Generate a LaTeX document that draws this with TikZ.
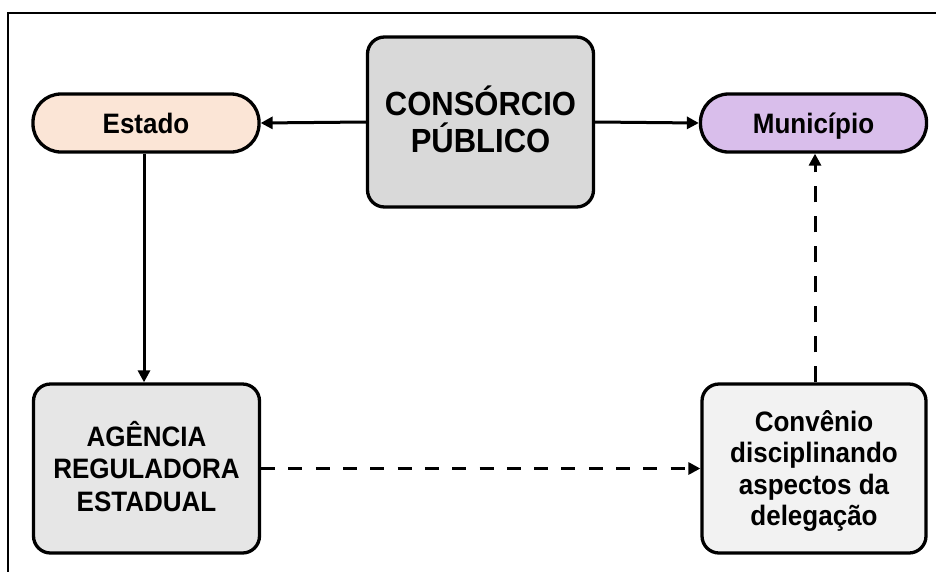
\documentclass[tikz,border=0pt]{standalone}
\usepackage{fontspec}
\usepackage{graphicx}
\setmainfont{Liberation Sans}
\usetikzlibrary{arrows.meta}
\definecolor{estadofill}{HTML}{FBE5D6}
\definecolor{munfill}{HTML}{D9BEEB}
\definecolor{consfill}{HTML}{D9D9D9}
\definecolor{agfill}{HTML}{E6E6E6}
\definecolor{convfill}{HTML}{F2F2F2}
\newcommand\stk[1]{\scalebox{1}[1.08]{\vtop{\lineskiplimit=-\maxdimen\halign{\hfil##\hfil\cr#1\crcr}}}}
\tikzset{
  pill/.style={draw, line width=3.3pt, rounded corners=28pt, minimum width=226pt, minimum height=58pt, inner sep=0pt,
    font=\fontsize{26}{30}\selectfont\bfseries, text height=20pt, text depth=0pt},
  bigbox/.style={draw, line width=3.3pt, rounded corners=17pt, minimum width=226pt, minimum height=169pt, inner sep=0pt,
    font=\fontsize{26}{30.1}\selectfont\bfseries, text height=0pt},
  conn/.style={line width=3pt, -{Triangle[length=12pt,width=12pt]}},
  dconn/.style={conn, dash pattern=on 14pt off 13.3pt},
  vdconn/.style={conn, dash pattern=on 16pt off 14pt}
}
\begin{document}
\begin{tikzpicture}[x=1pt,y=-1pt]
\useasboundingbox (0,0) rectangle (936,571);
\clip (0,0) rectangle (936,571);
\fill[white] (0,0) rectangle (936,571);
\draw[line width=2pt] (8,13) rectangle (950,590);
\node[pill, fill=estadofill] (estado) at (146,123) {\stk{Estado}};
\node[pill, fill=munfill] (mun) at (813.5,123) {\stk{Município}};
\node[bigbox, fill=consfill, minimum height=170pt, font=\fontsize{31}{34.3}\selectfont\bfseries, text depth=13pt] (cons) at (480.5,122) {\stk{CONSÓRCIO\cr PÚBLICO}};
\node[bigbox, fill=agfill, text depth=45pt] (ag) at (146.5,468.5) {\stk{AGÊNCIA\cr REGULADORA\cr ESTADUAL}};
\node[bigbox, fill=convfill, minimum width=224pt, font=\fontsize{26}{29.2}\selectfont\bfseries, text depth=74.5pt] (conv) at (814,468.5) {\stk{Convênio\cr disciplinando\cr aspectos da\cr delegação}};
\draw[conn] (cons.west) -- (estado.east);
\draw[conn] (cons.east) -- (mun.west);
\draw[conn] (estado.south -| 144,0) -- (ag.north -| 144,0);
\draw[dconn] (ag.east) -- (conv.west);
\draw[vdconn] (conv.north -| 815,0) -- (mun.south -| 815,0);
\end{tikzpicture}
\end{document}
